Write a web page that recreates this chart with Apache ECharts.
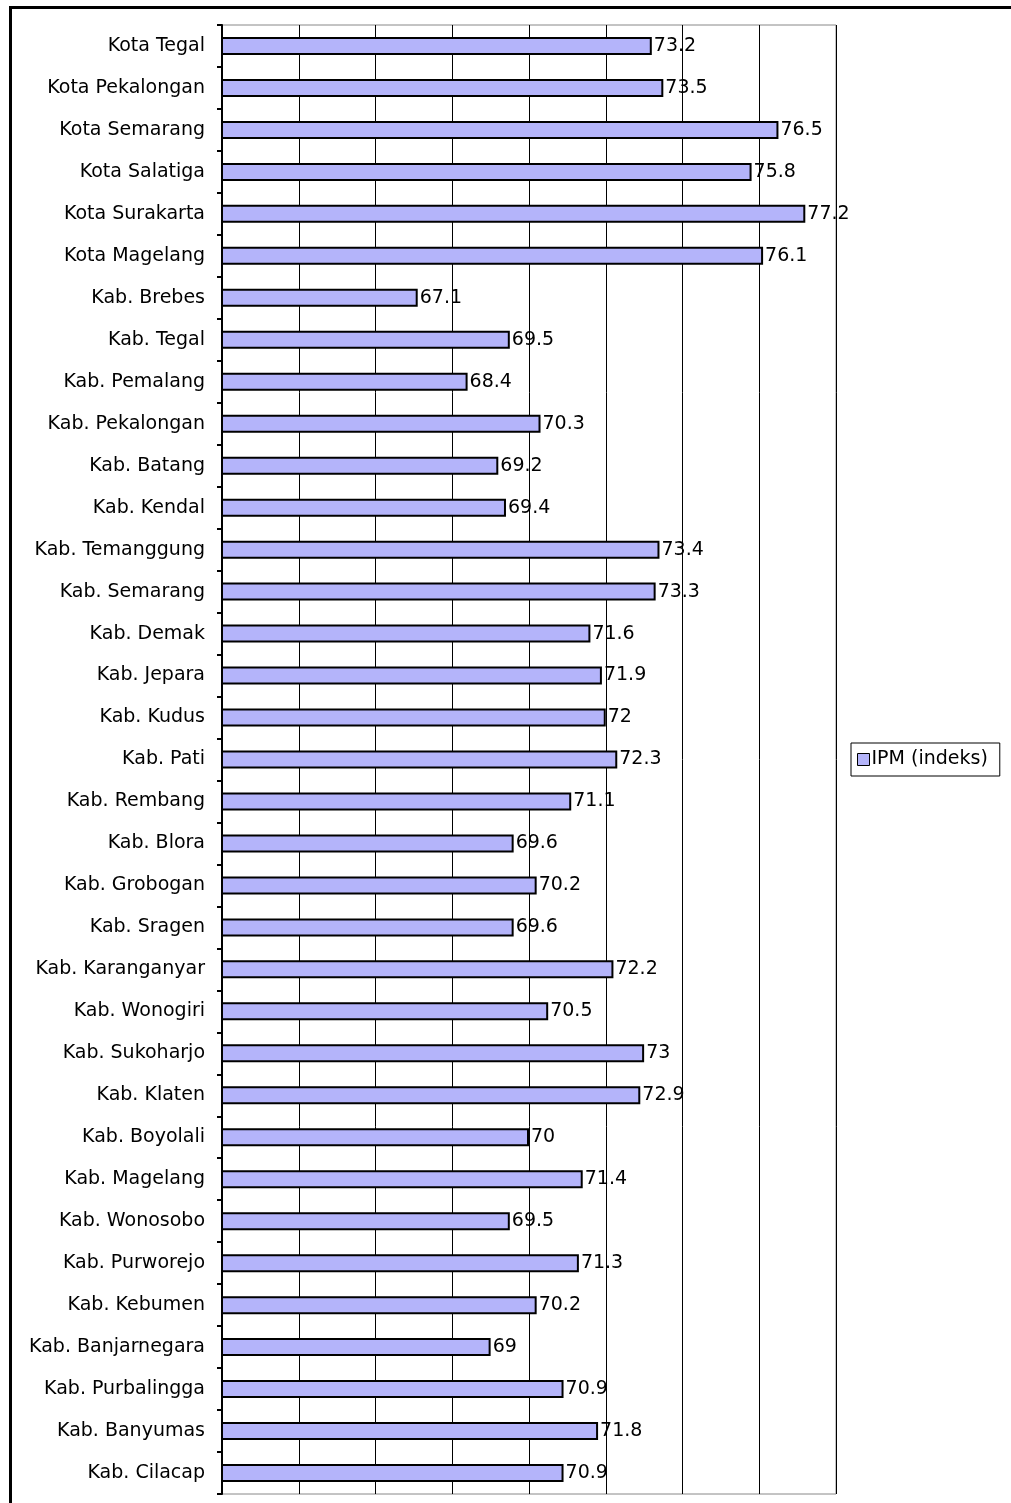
<!DOCTYPE html>
<html lang="id">

<head>
    <meta charset="UTF-8">
    <title>IPM Jawa Tengah</title>
    <script type="text/javascript" src="https://cdn.jsdelivr.net/npm/echarts@6/dist/echarts.min.js"></script>
    <style>
        body { margin: 0; background: #fff; }
        #frame { position: absolute; left: 9px; top: 6px; width: 1010px; height: 1495px;
                 border-top: 3px solid #000; border-left: 3px solid #000; }
        #main { position: absolute; left: 0; top: 0; width: 1011px; height: 1503px; }
    </style>
</head>

<body>
    <div id="frame"></div>
    <div id="main"></div>
    <script>
        var regions = ['Kota Tegal', 'Kota Pekalongan', 'Kota Semarang', 'Kota Salatiga', 'Kota Surakarta',
            'Kota Magelang', 'Kab. Brebes', 'Kab. Tegal', 'Kab. Pemalang', 'Kab. Pekalongan', 'Kab. Batang',
            'Kab. Kendal', 'Kab. Temanggung', 'Kab. Semarang', 'Kab. Demak', 'Kab. Jepara', 'Kab. Kudus',
            'Kab. Pati', 'Kab. Rembang', 'Kab. Blora', 'Kab. Grobogan', 'Kab. Sragen', 'Kab. Karanganyar',
            'Kab. Wonogiri', 'Kab. Sukoharjo', 'Kab. Klaten', 'Kab. Boyolali', 'Kab. Magelang', 'Kab. Wonosobo',
            'Kab. Purworejo', 'Kab. Kebumen', 'Kab. Banjarnegara', 'Kab. Purbalingga', 'Kab. Banyumas',
            'Kab. Cilacap'];
        var ipm = [73.2, 73.5, 76.5, 75.8, 77.2, 76.1, 67.1, 69.5, 68.4, 70.3, 69.2, 69.4, 73.4, 73.3, 71.6,
            71.9, 72, 72.3, 71.1, 69.6, 70.2, 69.6, 72.2, 70.5, 73, 72.9, 70, 71.4, 69.5, 71.3, 70.2, 69,
            70.9, 71.8, 70.9];
        var seriesName = 'IPM (indeks)';

        var font = 'DejaVu Sans';
        var myChart = echarts.init(document.getElementById('main'));

        myChart.setOption({
            animation: false,
            grid: {
                left: 222,
                top: 25,
                width: 614,
                height: 1469,
                show: true,
                borderColor: '#888',
                borderWidth: 1
            },
            legend: {
                data: [seriesName],
                orient: 'vertical',
                left: 851,
                top: 743,
                padding: [7, 12, 7, 6],
                borderColor: '#000',
                borderWidth: 1,
                itemWidth: 12,
                itemHeight: 12,
                itemGap: 0,
                icon: 'rect',
                itemStyle: { borderColor: '#000', borderWidth: 1 },
                textStyle: { fontFamily: font, fontSize: 19, color: '#000', padding: [0, 0, 0, -3] }
            },
            xAxis: {
                type: 'value',
                min: 62,
                max: 78,
                interval: 2,
                axisLabel: { show: false },
                axisTick: { show: false },
                axisLine: { show: false },
                splitLine: { lineStyle: { color: '#000', width: 1 } }
            },
            yAxis: {
                type: 'category',
                data: regions,
                inverse: true,
                axisLine: { lineStyle: { color: '#000', width: 2 } },
                axisTick: { show: true, length: 5, lineStyle: { color: '#000', width: 2 } },
                axisLabel: { margin: 17, fontFamily: font, fontSize: 19, color: '#000' }
            },
            series: [{
                name: seriesName,
                type: 'bar',
                data: ipm,
                barWidth: 18,
                itemStyle: { color: '#b4b4fa', borderColor: '#000', borderWidth: 2 },
                label: {
                    show: true,
                    position: 'right',
                    distance: 2,
                    fontFamily: font,
                    fontSize: 19,
                    color: '#000'
                }
            }]
        });
    </script>
</body>

</html>
